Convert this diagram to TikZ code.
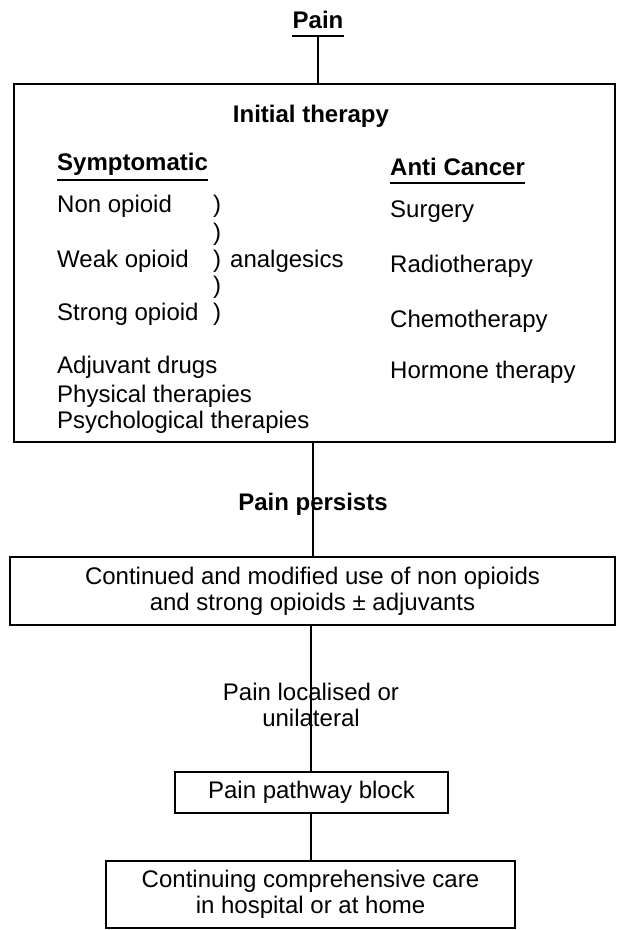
\documentclass[tikz,border=0pt]{standalone}
\usepackage{fontspec}
\setmainfont{Liberation Sans}
\usetikzlibrary{positioning}

\tikzset{
  panel/.style={draw, line width=1.3pt, inner sep=0pt},
  box/.style={draw, line width=1.3pt, align=center, inner sep=0pt},
  item/.style={anchor=base west, inner sep=0pt},
  head/.style={inner sep=0pt, font=\fontsize{24}{26}\selectfont\bfseries},
  link/.style={line width=1.3pt},
}

\begin{document}
\begin{tikzpicture}[x=1pt, y=-1pt, font=\fontsize{24}{26}\selectfont]
\useasboundingbox (0,0) rectangle (617,930);

\node[head, anchor=base] (pain) at (318,28) {Pain};
\node[panel, minimum width=601pt, minimum height=358pt] (init) at (314.5,263) {};

\node[head, anchor=base] (initial) at (311,122) {Initial therapy};
\node[head, anchor=base west] (symp) at (57,170) {Symptomatic};
\node[head, anchor=base west] (anti) at (390,175) {Anti Cancer};

\node[item] (nonop) at (57,212) {Non opioid};
\node[item] (weakop) at (57,267) {Weak opioid};
\node[item] (strongop) at (57,320) {Strong opioid};
\node[item] (p1) at (213,212) {)};
\node[item] (p2) at (213,240) {)};
\node[item] (p3) at (213,267) {)};
\node[item] (p4) at (213,293) {)};
\node[item] (p5) at (213,320) {)};
\node[item] (analg) at (230,267) {analgesics};
\node[item] (adj) at (57,373) {Adjuvant drugs};
\node[item] (phys) at (57,402) {Physical therapies};
\node[item] (psych) at (57,428) {Psychological therapies};

\node[item] (surg) at (390,217) {Surgery};
\node[item] (radio) at (390,272) {Radiotherapy};
\node[item] (chemo) at (390,327) {Chemotherapy};
\node[item] (horm) at (390,378) {Hormone therapy};

\node[head, anchor=base] (persist) at (313,510) {Pain persists};
\node[box, minimum width=605pt, minimum height=68pt] (cont) at (312.5,591)
  {Continued and modified use of non opioids\\and strong opioids ± adjuvants};
\node[align=center, inner sep=0pt] (local) at (311,705) {Pain localised or\\unilateral};
\node[box, minimum width=273pt, minimum height=41pt] (block) at (311.5,792.5) {Pain pathway block};
\node[box, minimum width=409pt, minimum height=67pt] (care) at (310.5,894.5)
  {Continuing comprehensive care\\in hospital or at home};

\draw[link] ([yshift=-8pt]pain.base west) -- ([yshift=-8pt]pain.base east);
\draw[link] ([yshift=-8pt]pain.base) -- (init.north -| pain.base);
\draw[link] ([yshift=-10pt]symp.base west) -- ([yshift=-10pt]symp.base east);
\draw[link] ([yshift=-8pt]anti.base west) -- ([yshift=-8pt]anti.base east);
\draw[link] (init.south -| persist) -- (cont.north -| persist);
\draw[link] (cont.south -| local) -- (block.north -| local);
\draw[link] (block.south -| local) -- (care.north -| local);
\end{tikzpicture}
\end{document}
